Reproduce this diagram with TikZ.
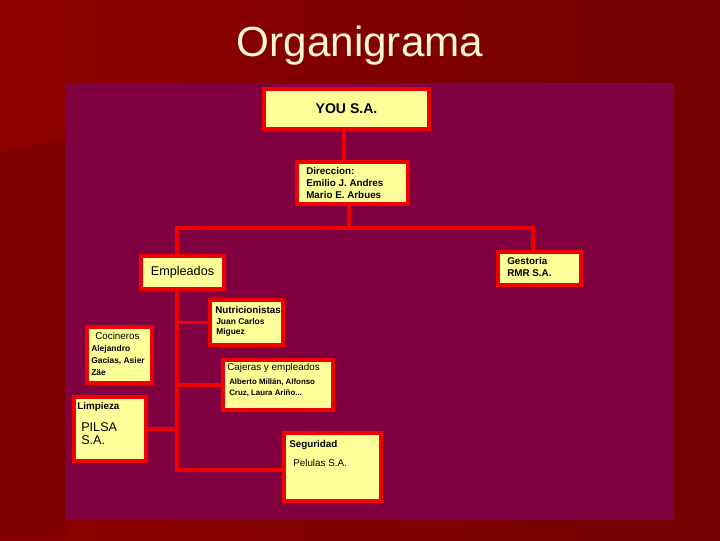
\documentclass[tikz,border=0pt]{standalone}
\usepackage{fontspec}
\setmainfont{Liberation Sans}
\usepackage{xcolor}
\usetikzlibrary{calc,fit}

\definecolor{bgleft}{RGB}{142,0,0}
\definecolor{bgright}{RGB}{116,0,0}
\definecolor{bgdark}{RGB}{128,0,0}
\definecolor{panel}{RGB}{128,0,64}
\definecolor{boxred}{RGB}{240,0,0}
\definecolor{boxfill}{RGB}{255,255,153}
\definecolor{titlecol}{RGB}{255,246,210}

\begin{document}
\begin{tikzpicture}[x=0.025cm,y=-0.025cm,
   box/.style={draw=boxred,line width=3.3pt,fill=boxfill,inner sep=0pt},
   wire/.style={draw=boxred,line width=2.8pt},
   txt/.style={anchor=north west,align=left,inner sep=0pt,
     font=\fontsize{7}{8.5}\selectfont\bfseries}]
 % slide background and panel (coordinates in pixels, y downwards)
 \useasboundingbox (0,0) rectangle (720,540);
 \shade[left color=bgleft,right color=bgright] (0,0) rectangle (720,540);
 \fill[bgdark] (0,152) -- (65,140) -- (65,540) -- (0,540) -- cycle;
 \fill[panel] (65,83) rectangle (674,520);
 \node[font=\fontsize{30}{36}\selectfont,text=titlecol] (title) at (360,46) {Organigrama};
 % boxes
 \node[box,fit={(264,89) (429,129)}]  (you) {};
 \node[box,fit={(297,162) (408,204)}] (dir) {};
 \node[box,fit={(141,256) (224,289)}] (emp) {};
 \node[box,fit={(498,252) (581,285)}] (ges) {};
 \node[box,fit={(210,300) (283,345)}] (nut) {};
 \node[box,fit={(87,327) (152,383)}]  (coc) {};
 \node[box,fit={(223,360) (333,410)}] (caj) {};
 \node[box,fit={(74,397) (146,461)}]  (lim) {};
 \node[box,fit={(284,433) (381,501)}] (seg) {};
 % box texts
 \node[font=\fontsize{10}{12}\selectfont\bfseries] (yout) at (you.center) {YOU S.A.};
 \node[txt] (dirt) at (306,167) {Direccion:\\Emilio J. Andres\\Mario E. Arbues};
 \node[font=\fontsize{9}{11}\selectfont] (empt) at (emp.center) {Empleados};
 \node[txt] (nutt) at (215,306) {Nutricionistas};
 \node[txt,font=\fontsize{6}{7.5}\selectfont\bfseries] (nutn) at (216,318) {Juan Carlos\\Miguez};
 \node[txt] (gest) at (507,257) {Gestoria\\RMR S.A.};
 \node[txt,font=\fontsize{7}{8.5}\selectfont] (coct) at (95,332) {Cocineros};
 \node[txt,font=\fontsize{6}{8.5}\selectfont\bfseries] (cocn) at (91,345) {Alejandro\\Gacías, Asier\\Zäe};
 \node[txt,font=\fontsize{7}{8.5}\selectfont] (cajt) at (227,363) {Cajeras y empleados};
 \node[txt,font=\fontsize{5.6}{7.8}\selectfont\bfseries] (cajn) at (229,378) {Alberto Millán, Alfonso\\Cruz, Laura Ariño...};
 \node[txt] (limt) at (77,402) {Limpieza};
 \node[txt,font=\fontsize{9}{9.3}\selectfont] (limn) at (81,422) {PILSA\\S.A.};
 \node[txt] (segt) at (289,440) {Seguridad};
 \node[txt,font=\fontsize{7}{8.5}\selectfont] (segn) at (293,459) {Pelulas S.A.};
 % connectors
 \coordinate (split) at (349,228);
 \coordinate (tl) at (177,228);
 \coordinate (tr) at (533,228);
 \coordinate (bot) at (177,470);
 \draw[wire] (you.south -| 344,0) -- (dir.north -| 344,0);
 \draw[wire] (dir.south -| split) -- (split);
 \draw[wire] (emp.north -| tl) -- (tl) -- (tr) -- (ges.north -| tr);
 \draw[wire] (emp.south -| bot) -- (bot) -- (bot -| seg.west);
 \draw[wire] (nut.west -| bot) -- (nut.west);
 \draw[wire] ($(coc.east)+(0,10)$) -- ($(coc.east)+(0,10)$ -| bot);
 \draw[wire] (caj.west -| bot) -- (caj.west);
 \draw[wire] (lim.east) -- (lim.east -| bot);
\end{tikzpicture}
\end{document}
